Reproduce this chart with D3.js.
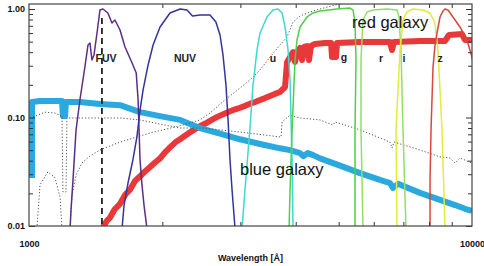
<!DOCTYPE html>
<html><head><meta charset="utf-8">
<script src="https://cdn.jsdelivr.net/npm/d3@7"></script>
<style>body{margin:0;background:#fff}svg{display:block;font-family:"Liberation Sans",Arial,sans-serif}</style>
</head><body><svg id="c" width="484" height="266"></svg>
<script>
// ---------- data (wavelength in Å, normalized flux / transmission) ----------
const xDomain = [1000, 10000];
const yDomain = [0.01, 1];
const xMajorTicks = [1000, 10000];
const yMajorTicks = [0.01, 0.1, 1];
const xTitle = "Wavelength [Å]";

const filterNames = ["FUV", "NUV", "u", "g", "r", "i", "z"];
const fuvCurve = [[1238,0.0095],[1244,0.0141],[1257,0.0266],[1277,0.0767],[1303,0.145],[1337,0.292],[1359,0.466],[1373,0.486],[1387,0.339],[1402,0.377],[1424,0.601],[1446,0.979],[1469,1.0],[1507,0.919],[1539,0.743],[1563,0.792],[1605,0.64],[1647,0.447],[1709,0.318],[1746,0.257],[1763,0.145],[1772,0.0767],[1781,0.0406],[1799,0.0239],[1818,0.0156],[1846,0.0095]];
const nuvCurve = [[1622,0.0095],[1639,0.0156],[1673,0.0249],[1716,0.0406],[1752,0.066],[1781,0.117],[1809,0.179],[1857,0.305],[1906,0.466],[1976,0.683],[2081,0.919],[2193,1.0],[2273,0.979],[2339,0.862],[2432,0.88],[2562,0.88],[2642,0.759],[2699,0.576],[2741,0.377],[2784,0.199],[2814,0.095],[2843,0.0406],[2873,0.0216],[2918,0.0095]];
const uCurve = [[3026,0.0095],[3073,0.0216],[3155,0.0817],[3204,0.199],[3271,0.419],[3323,0.601],[3445,0.844],[3554,0.979],[3650,1.0],[3726,0.919],[3784,0.683],[3844,0.419],[3884,0.222],[3904,0.095],[3925,0.0406],[3945,0.0095]];
const gCurve = [[3864,0.0095],[3884,0.0216],[3925,0.0767],[3986,0.339],[4027,0.518],[4091,0.683],[4242,0.844],[4375,0.919],[4539,0.958],[4958,1.0],[5305,1.02],[5388,0.979],[5444,0.759],[5472,0.339],[5444,0.0767],[5444,0.0095]];
const rCurve = [[5675,0.0095],[5616,0.0767],[5616,0.339],[5645,0.518],[5675,0.792],[5796,0.938],[5979,0.979],[6422,1.0],[6772,0.979],[6843,0.844],[6914,0.419],[6986,0.0767],[7095,0.0095]];
const iCurve = [[6772,0.0095],[6737,0.0767],[6879,0.419],[6986,0.792],[7130,0.938],[7359,1.0],[7749,0.979],[8040,0.919],[8250,0.743],[8380,0.419],[8556,0.0767],[8690,0.0095]];
const zCurve = [[8040,0.0095],[8040,0.0266],[8082,0.0767],[8166,0.292],[8250,0.46],[8337,0.601],[8468,0.844],[8600,0.96],[8690,1.0],[8826,0.979],[9058,0.844],[9394,0.683],[9742,0.518],[10000,0.361],[10310,0.179]];

const redGalaxy = [[1469,0.0098],[1500,0.0112],[1523,0.0119],[1560,0.0142],[1605,0.016],[1650,0.0195],[1690,0.0216],[1735,0.026],[1781,0.0287],[1830,0.032],[1876,0.035],[1925,0.0385],[1976,0.042],[2030,0.048],[2081,0.053],[2140,0.059],[2193,0.063],[2250,0.068],[2309,0.073],[2370,0.078],[2432,0.083],[2500,0.088],[2562,0.093],[2630,0.099],[2699,0.104],[2770,0.109],[2843,0.114],[2920,0.119],[2995,0.123],[3075,0.128],[3155,0.134],[3240,0.139],[3323,0.145],[3410,0.151],[3500,0.158],[3590,0.165],[3687,0.172],[3784,0.191],[3824,0.325],[3884,0.361],[3945,0.401],[3986,0.325],[4027,0.401],[4091,0.437],[4134,0.339],[4177,0.447],[4242,0.456],[4286,0.339],[4331,0.456],[4422,0.476],[4659,0.486],[4807,0.486],[4831,0.361],[4932,0.361],[4958,0.486],[5587,0.496],[6530,0.496],[6598,0.419],[6667,0.496],[7630,0.507],[8690,0.507],[8872,0.576],[9493,0.588],[9643,0.518],[10000,0.518]];
const blueGalaxy = [[1016,0.0277],[1016,0.139],[1059,0.142],[1115,0.142],[1187,0.142],[1193,0.103],[1206,0.103],[1212,0.139],[1303,0.139],[1446,0.133],[1605,0.13],[1781,0.112],[1976,0.103],[2193,0.095],[2432,0.08],[2699,0.071],[2995,0.063],[3323,0.057],[3687,0.052],[3884,0.05],[4091,0.047],[4160,0.044],[4260,0.047],[4380,0.045],[4539,0.042],[5035,0.036],[5587,0.0307],[6199,0.0266],[6530,0.0249],[6632,0.0224],[6807,0.0245],[7630,0.0202],[8468,0.0174],[9156,0.0156],[9643,0.0144],[10000,0.0138]];

const templateA1 = [[1042,0.0095],[1059,0.024],[1103,0.0315],[1144,0.028],[1175,0.0185],[1187,0.0095]];
const templateA2 = [[1238,0.0095],[1251,0.0193],[1277,0.0294],[1317,0.0381],[1373,0.0442],[1446,0.0502],[1605,0.0594],[1876,0.072],[2227,0.0853],[2432,0.095],[2562,0.11],[2699,0.133],[2843,0.158],[2995,0.187],[3155,0.222],[3323,0.274],[3500,0.361],[3687,0.466],[3824,0.552],[3945,0.759],[4091,0.862],[4309,0.938],[4539,1.0],[4907,1.088],[5167,1.136]];
const templateB = [[1021,0.101],[1087,0.112],[1144,0.11],[1187,0.103],[1193,0.0206],[1212,0.0206],[1218,0.099],[1352,0.099],[1605,0.099],[1781,0.095],[1976,0.087],[2193,0.08],[2470,0.08],[2949,0.074],[3500,0.068],[3706,0.066],[3726,0.091],[3884,0.105],[4091,0.099],[4539,0.095],[4857,0.085],[4907,0.091],[5587,0.077],[6530,0.0594],[6598,0.0524],[6667,0.0594],[7630,0.0502],[8468,0.0434],[8918,0.0424],[9156,0.0381],[9394,0.0424],[9743,0.0397],[10000,0.0381]];

const fuvEffective = 1461;
const fuvDashTop = 0.826;
const filterLabelAnchors = [[1492,0.325],[2250,0.325],[3554,0.325],[5140,0.335],[6231,0.325],[7022,0.325],[8468,0.325]];
const galaxyLabels = ["red galaxy", "blue galaxy"];
const galaxyLabelAnchors = [[5360,0.668],[2995,0.0298]];

// ---------- styles ----------
const filterColors = ["#5b2e86", "#34349c", "#3fd8d2", "#4fcf4a", "#92de66", "#e1ec3c", "#d6483c"];
const redColor = "#e8383a", blueColor = "#2ba8de";

// ---------- drawing ----------
const svg = d3.select("#c");
const L = 29, R = 472, T = 4, B = 226;
const x = d3.scaleLog().domain(xDomain).range([L, R]);
const y = d3.scaleLog().domain(yDomain).range([B, 9]);
const line = d3.line().x(d => x(d[0])).y(d => y(d[1]));

svg.append("defs").append("clipPath").attr("id", "clip")
  .append("rect").attr("x", L).attr("y", T).attr("width", R - L).attr("height", B - T);
const plot = svg.append("g").attr("clip-path", "url(#clip)");

plot.append("path").datum(redGalaxy).attr("d", line).attr("fill", "none")
  .attr("stroke", redColor).attr("stroke-width", 6).attr("stroke-linejoin", "round");
plot.append("path").datum(blueGalaxy).attr("d", line).attr("fill", "none")
  .attr("stroke", blueColor).attr("stroke-width", 6).attr("stroke-linejoin", "round");

[templateA1, templateA2, templateB].forEach(s => {
  plot.append("path").datum(s).attr("d", line).attr("fill", "none")
    .attr("stroke", "#555").attr("stroke-width", 1).attr("stroke-dasharray", "1.2,2");
});

const filterCurves = [fuvCurve, nuvCurve, uCurve, gCurve, rCurve, iCurve, zCurve];
filterCurves.forEach((c, i) => {
  plot.append("path").datum(c).attr("d", line).attr("fill", "none")
    .attr("stroke", filterColors[i]).attr("stroke-width", 1.5).attr("stroke-linejoin", "round");
});

plot.append("line").attr("x1", x(fuvEffective)).attr("x2", x(fuvEffective))
  .attr("y1", y(fuvDashTop)).attr("y2", B)
  .attr("stroke", "#222").attr("stroke-width", 1.8).attr("stroke-dasharray", "6,4");

// labels
filterNames.forEach((n, i) => {
  svg.append("text").attr("x", x(filterLabelAnchors[i][0])).attr("y", y(filterLabelAnchors[i][1]))
    .attr("text-anchor", "middle").attr("font-size", 10.5).attr("font-weight", "bold")
    .attr("fill", "#222").text(n);
});
galaxyLabels.forEach((n, i) => {
  svg.append("text").attr("x", x(galaxyLabelAnchors[i][0])).attr("y", y(galaxyLabelAnchors[i][1]))
    .attr("font-size", 16.5).attr("fill", "#111").text(n);
});

// axes
const yMinor = y.ticks().filter(v => !yMajorTicks.some(m => Math.abs(m - v) / m < 1e-6));
const xMinor = x.ticks().filter(v => !xMajorTicks.includes(v));
function clean(g) { g.select(".domain").remove(); g.selectAll("line").attr("stroke", "#333"); }

svg.append("g").attr("transform", `translate(${L},0)`)
  .call(d3.axisLeft(y).tickValues(yMajorTicks).tickSize(-6).tickPadding(4).tickFormat(d3.format(".2f")))
  .call(clean).call(g => g.selectAll("text").attr("font-size", 9).attr("font-weight", "bold")
    .attr("fill", "#111").attr("font-family", '"Liberation Sans",Arial,sans-serif'));
svg.append("g").attr("transform", `translate(${L},0)`)
  .call(d3.axisLeft(y).tickValues(yMinor).tickSize(-4).tickFormat("")).call(clean);
svg.append("g").attr("transform", `translate(${R},0)`)
  .call(d3.axisRight(y).tickValues(yMajorTicks).tickSize(-6).tickFormat("")).call(clean);
svg.append("g").attr("transform", `translate(${R},0)`)
  .call(d3.axisRight(y).tickValues(yMinor).tickSize(-4).tickFormat("")).call(clean);

svg.append("g").attr("transform", `translate(0,${B})`)
  .call(d3.axisBottom(x).tickValues(xMajorTicks).tickSize(0).tickPadding(14.6).tickFormat(d3.format("d")))
  .call(clean).call(g => g.selectAll("text").attr("font-size", 9).attr("font-weight", "bold")
    .attr("fill", "#111").attr("font-family", '"Liberation Sans",Arial,sans-serif'));
svg.append("g").attr("transform", `translate(0,${B})`)
  .call(d3.axisBottom(x).tickValues(xMinor).tickSize(-4).tickFormat("")).call(clean);
svg.append("g").attr("transform", `translate(0,${T})`)
  .call(d3.axisTop(x).tickValues(xMinor).tickSize(-4).tickFormat("")).call(clean);

svg.append("rect").attr("x", L).attr("y", T).attr("width", R - L).attr("height", B - T)
  .attr("fill", "none").attr("stroke", "#444").attr("stroke-width", 1.2);

svg.append("text").attr("x", (L + R) / 2).attr("y", 261).attr("text-anchor", "middle")
  .attr("font-size", 9).attr("font-weight", "bold").attr("fill", "#111").text(xTitle);
</script></body></html>
